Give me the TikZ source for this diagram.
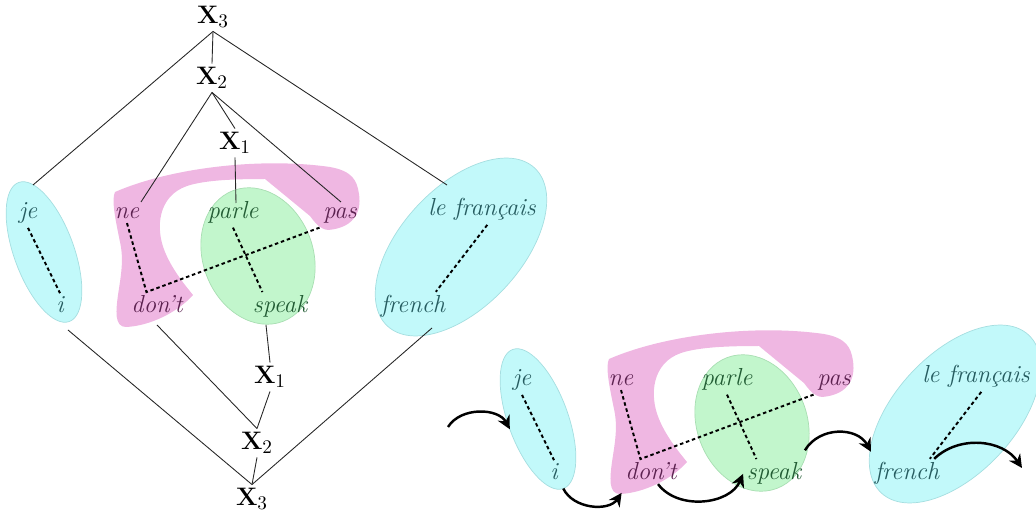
\documentclass[tikz,border=0pt]{standalone}
\usetikzlibrary{shapes.geometric,arrows.meta}

\definecolor{cyanfill}{RGB}{194,249,250}
\definecolor{cyanline}{RGB}{165,222,224}
\definecolor{pinkfill}{RGB}{239,183,226}
\definecolor{greenfill}{RGB}{194,246,204}
\definecolor{greenline}{RGB}{168,222,178}
\definecolor{wordteal}{RGB}{38,92,96}
\definecolor{wordplum}{RGB}{92,34,80}
\definecolor{wordgreen}{RGB}{34,92,52}

\begin{document}
\begin{tikzpicture}[x=0.02cm, y=-0.02cm,
	word/.style={font=\fontsize{14}{16}\selectfont\itshape, inner sep=2pt, anchor=base},
	cat/.style={font=\fontsize{15}{18}\selectfont, inner sep=2pt},
	blob/.style={ellipse, inner sep=0pt, outer sep=0pt, line width=0.4pt},
	tree/.style={line width=0.5pt, black!85},
	link/.style={line width=1.1pt, dash pattern=on 2pt off 1.6pt},
	hop/.style={line width=1.4pt, -{Stealth[length=7.5pt,width=7.5pt]}}]

	\clip (0,0) rectangle (1036,513);

	% the same aligned phrase, twice
	\foreach \s/\dx/\dy in {l/0/0, r/494/167} {
	\begin{scope}[shift={(\dx,\dy)}]
		\node[blob, fill=cyanfill, draw=cyanline, minimum width=1.2cm, minimum height=2.96cm, rotate=20] (jeblob\s) at (44,252) {};
		\node[blob, fill=cyanfill, draw=cyanline, minimum width=4.32cm, minimum height=2.4cm, rotate=47] (frblob\s) at (461,247) {};
		\fill[pinkfill] (115,192) .. controls (170,168) and (260,157) .. (330,167)
			.. controls (352,171) and (357,180) .. (359,194)
			.. controls (362,214) and (352,228) .. (328,230)
			.. controls (320,229) and (316,224) .. (310,216)
			-- (265,179)
			.. controls (235,179) and (205,180) .. (187,186)
			.. controls (158,196) and (155,228) .. (165,252)
			.. controls (172,269) and (184,284) .. (193,295)
			.. controls (178,312) and (150,326) .. (126,327)
			.. controls (114,327) and (116,310) .. (118,295)
			.. controls (121,275) and (124,260) .. (120,242)
			.. controls (116,222) and (111,200) .. (115,192) -- cycle;
		\node[blob, fill=greenfill, draw=greenline, minimum width=2.2cm, minimum height=2.8cm, rotate=21] (vblob\s) at (258,256) {};

		\node[word, wordteal] (je\s) at (28,219) {je};
		\node[word, wordteal] (i\s) at (60,313) {i};
		\node[word, wordplum] (ne\s) at (127,219) {ne};
		\node[word, wordplum] (dont\s) at (157,313) {don't};
		\node[word, wordgreen] (parle\s) at (233,219) {parle};
		\node[word, wordgreen] (speak\s) at (280,313) {speak};
		\node[word, wordplum] (pas\s) at (340,219) {pas};
		\node[word, wordteal] (fr\s) at (482,216) {le français};
		\node[word, wordteal] (french\s) at (413,313) {french};

		\draw[link] (je\s.south) -- (i\s.north);
		\draw[link] (ne\s.south) -- ([xshift=-6pt]dont\s.north) -- (pas\s.south west);
		\draw[link] (parle\s.south) -- ([xshift=-10pt]speak\s.north);
		\draw[link] ([xshift=3pt]fr\s.south) -- ([xshift=13pt]french\s.north);
	\end{scope}
	}

	% trees over the left copy
	\node[cat] (xthree) at (213,17) {$\mathbf{X}_3$};
	\node[cat] (xtwo) at (212,78) {$\mathbf{X}_2$};
	\node[cat] (xone) at (235,143) {$\mathbf{X}_1$};
	\node[cat] (yone) at (270,377) {$\mathbf{X}_1$};
	\node[cat] (ytwo) at (257,443) {$\mathbf{X}_2$};
	\node[cat] (ythree) at (252,499) {$\mathbf{X}_3$};

	\coordinate (jetop) at (33,185);
	\coordinate (netop) at (141,202);
	\coordinate (parletop) at (236,203);
	\coordinate (pastop) at (341,202);
	\coordinate (frtop) at (447,185);
	\coordinate (ibot) at (68,330);
	\coordinate (dontbot) at (157,325);
	\coordinate (speakbot) at (266,325);
	\coordinate (frbot) at (432,328);

	\draw[tree] (jetop) -- (xthree.south) -- (frtop);
	\draw[tree] (xthree.south) -- (xtwo.north);
	\draw[tree] (netop) -- (xtwo.south) -- (pastop);
	\draw[tree] (xtwo.south) -- (xone.north);
	\draw[tree] (xone.south) -- (parletop);
	\draw[tree] (speakbot) -- (yone.north);
	\draw[tree] (yone.south) -- (ytwo.north);
	\draw[tree] (dontbot) -- (ytwo.north);
	\draw[tree] (ytwo.south) -- (ythree.north);
	\draw[tree] (ibot) -- (ythree.north) -- (frbot);

	% reading order over the right copy
	\coordinate (hopstart) at (448,427);
	\coordinate (hopend) at (1022,468);
	\draw[hop] (hopstart) to[bend left=60] (jeblobr.west);
	\draw[hop] (jeblobr.south) to[bend right=60] ([yshift=-5pt]dontr.south west);
	\draw[hop] ([xshift=4pt]dontr.south) to[bend right=60] (speakr.west);
	\draw[hop] ([yshift=5pt]speakr.north east) to[bend left=60, looseness=1.1] ([yshift=4pt]frenchr.north west);
	\draw[hop] ([xshift=-5pt]frenchr.north east) to[bend left=50] (hopend);
\end{tikzpicture}
\end{document}
